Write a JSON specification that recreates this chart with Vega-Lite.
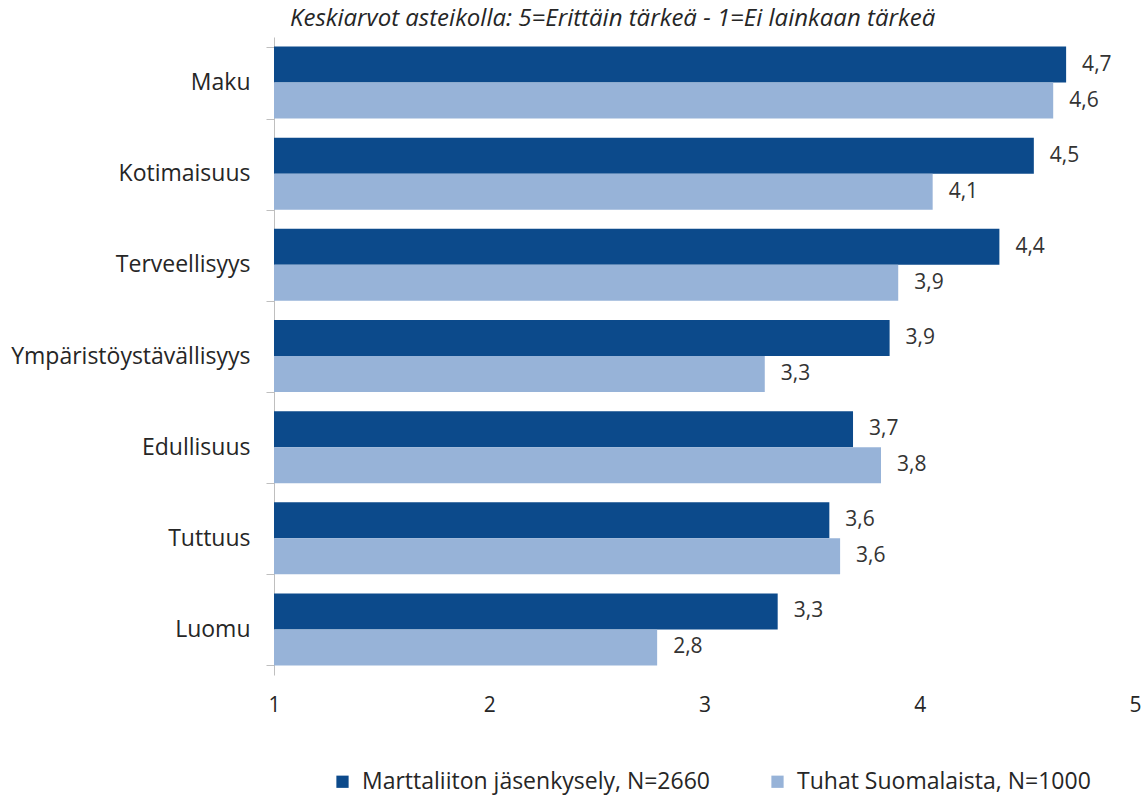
{
  "$schema": "https://vega.github.io/schema/vega-lite/v6.json",
  "autosize": "none",
  "width": 861,
  "height": 638,
  "padding": {"left": 274, "top": 37, "right": 10, "bottom": 121},
  "background": "white",
  "config": {
    "locale": {"number": {"decimal": ",", "thousands": " ", "grouping": [3], "currency": ["", " €"]}},
    "font": "Open Sans",
    "view": {"stroke": null}
  },
  "title": {
    "text": "Keskiarvot asteikolla: 5=Erittäin tärkeä - 1=Ei lainkaan tärkeä",
    "anchor": "start",
    "frame": "group",
    "dx": 16,
    "offset": -5,
    "fontStyle": "italic",
    "fontWeight": "normal",
    "fontSize": 24,
    "color": "#262626",
    "font": "Open Sans"
  },
  "data": {
    "values": [
      {"ominaisuus": "Maku", "sarja": "Marttaliiton jäsenkysely, N=2660", "arvo": 4.68},
      {"ominaisuus": "Maku", "sarja": "Tuhat Suomalaista, N=1000", "arvo": 4.62},
      {"ominaisuus": "Kotimaisuus", "sarja": "Marttaliiton jäsenkysely, N=2660", "arvo": 4.53},
      {"ominaisuus": "Kotimaisuus", "sarja": "Tuhat Suomalaista, N=1000", "arvo": 4.06},
      {"ominaisuus": "Terveellisyys", "sarja": "Marttaliiton jäsenkysely, N=2660", "arvo": 4.37},
      {"ominaisuus": "Terveellisyys", "sarja": "Tuhat Suomalaista, N=1000", "arvo": 3.9},
      {"ominaisuus": "Ympäristöystävällisyys", "sarja": "Marttaliiton jäsenkysely, N=2660", "arvo": 3.86},
      {"ominaisuus": "Ympäristöystävällisyys", "sarja": "Tuhat Suomalaista, N=1000", "arvo": 3.28},
      {"ominaisuus": "Edullisuus", "sarja": "Marttaliiton jäsenkysely, N=2660", "arvo": 3.69},
      {"ominaisuus": "Edullisuus", "sarja": "Tuhat Suomalaista, N=1000", "arvo": 3.82},
      {"ominaisuus": "Tuttuus", "sarja": "Marttaliiton jäsenkysely, N=2660", "arvo": 3.58},
      {"ominaisuus": "Tuttuus", "sarja": "Tuhat Suomalaista, N=1000", "arvo": 3.63},
      {"ominaisuus": "Luomu", "sarja": "Marttaliiton jäsenkysely, N=2660", "arvo": 3.34},
      {"ominaisuus": "Luomu", "sarja": "Tuhat Suomalaista, N=1000", "arvo": 2.78}
    ]
  },
  "encoding": {
    "y": {
      "field": "ominaisuus",
      "type": "nominal",
      "sort": null,
      "scale": {"paddingInner": 0.21, "paddingOuter": 0.105},
      "axis": {
        "title": null,
        "domainColor": "#bfbfbf",
        "tickColor": "#bfbfbf",
        "tickBand": "extent",
        "tickSize": 8,
        "labelPadding": 16,
        "labelFontSize": 23,
        "labelColor": "#262626",
        "labelFont": "Open Sans",
        "labelLimit": 300
      }
    },
    "yOffset": {
      "field": "sarja",
      "type": "nominal",
      "sort": ["Marttaliiton jäsenkysely, N=2660", "Tuhat Suomalaista, N=1000"]
    },
    "x": {
      "field": "arvo",
      "type": "quantitative",
      "scale": {"domain": [1, 5], "zero": false, "nice": false},
      "axis": {
        "title": null,
        "values": [1, 2, 3, 4, 5],
        "format": "d",
        "domain": false,
        "ticks": false,
        "grid": false,
        "labelFlush": false,
        "labelPadding": 19,
        "labelFontSize": 21,
        "labelColor": "#262626",
        "labelFont": "Open Sans"
      }
    }
  },
  "layer": [
    {
      "mark": {"type": "bar"},
      "encoding": {
        "x2": {"datum": 1},
        "color": {
          "field": "sarja",
          "type": "nominal",
          "scale": {
            "domain": ["Marttaliiton jäsenkysely, N=2660", "Tuhat Suomalaista, N=1000"],
            "range": ["#0c4a8b", "#97b3d8"]
          },
          "legend": {
            "title": null,
            "orient": "none",
            "direction": "horizontal",
            "legendX": 57,
            "legendY": 733,
            "symbolType": "square",
            "symbolSize": 150,
            "symbolStrokeWidth": 0,
            "labelFontSize": 23,
            "labelColor": "#262626",
            "labelFont": "Open Sans",
            "labelLimit": 500,
            "columnPadding": 56,
            "labelOffset": 8
          }
        }
      }
    },
    {
      "mark": {"type": "text", "align": "left", "dx": 16, "fontSize": 21, "color": "#333333", "font": "Open Sans"},
      "encoding": {
        "text": {"field": "arvo", "type": "quantitative", "format": ".1f"}
      }
    }
  ]
}
